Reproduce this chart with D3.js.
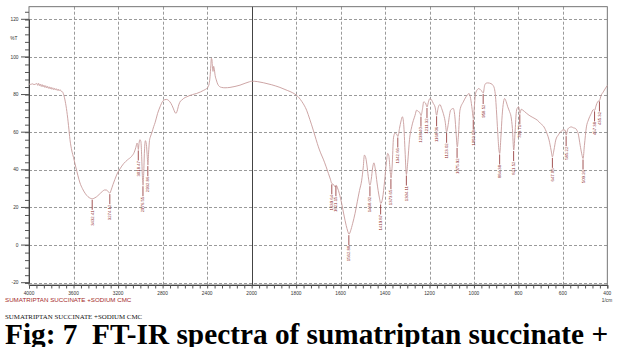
<!DOCTYPE html>
<html>
<head>
<meta charset="utf-8">
<script src="https://cdn.jsdelivr.net/npm/d3@7"></script>
<style>
  html, body { margin: 0; padding: 0; background: #fff; }
  svg { display: block; }
</style>
</head>
<body>
<div id="chart"></div>
<script>
// spectrum (wavenumber 1/cm, %T)
const waveNumbers = [
  4000, 3985, 3970, 3955, 3940, 3930, 3922, 3914, 3906, 3898, 3890, 3882, 3874, 3866, 3858, 3850,
  3842, 3834, 3826, 3818, 3810, 3802, 3794, 3786, 3778, 3770, 3762, 3754, 3746, 3738, 3730, 3722,
  3712, 3700, 3690, 3675, 3660, 3645, 3632, 3615, 3600, 3580, 3560, 3542, 3520, 3497, 3470, 3450,
  3432, 3415, 3395, 3370, 3345, 3320, 3302, 3288, 3274, 3262, 3245, 3228, 3205, 3183, 3150, 3115,
  3078, 3055, 3040, 3030, 3024, 3018, 3012, 3004, 2995, 2988, 2982, 2976, 2970, 2963, 2955, 2946,
  2939, 2932, 2926, 2918, 2910, 2898, 2880, 2868, 2845, 2823, 2800, 2780, 2763, 2745, 2725, 2705,
  2690, 2680, 2670, 2655, 2640, 2629, 2610, 2584, 2560, 2530, 2494, 2460, 2430, 2404, 2392, 2382,
  2374, 2367, 2362, 2357, 2352, 2347, 2342, 2337, 2328, 2318, 2305, 2290, 2270, 2240, 2195, 2150,
  2105, 2060, 2020, 2000, 1975, 1948, 1910, 1873, 1840, 1815, 1798, 1775, 1753, 1738, 1723, 1710,
  1700, 1690, 1678, 1665, 1655, 1646, 1640, 1632, 1625, 1620, 1614, 1606, 1595, 1585, 1575, 1568,
  1562, 1555, 1546, 1535, 1525, 1515, 1505, 1498, 1493, 1487, 1480, 1474, 1468, 1462, 1456, 1450,
  1444, 1436, 1426, 1419, 1411, 1402, 1394, 1388, 1383, 1378, 1373, 1368, 1362, 1355, 1348, 1342,
  1335, 1328, 1322, 1316, 1310, 1304, 1298, 1290, 1280, 1265, 1258, 1250, 1244, 1238, 1232, 1226,
  1218, 1211, 1204, 1198, 1190, 1183, 1175, 1168, 1161, 1153, 1145, 1138, 1130, 1123, 1116, 1110,
  1105, 1093, 1086, 1080, 1075, 1070, 1063, 1048, 1030, 1022, 1015, 1008, 1003, 998, 993, 985,
  978, 970, 963, 958, 952, 946, 938, 923, 915, 908, 903, 899, 893, 888, 884, 879,
  873, 867, 862, 855, 848, 840, 833, 827, 821, 815, 810, 806, 799, 793, 787, 780,
  765, 752, 735, 715, 700, 685, 672, 662, 653, 647, 640, 632, 620, 610, 598, 590,
  585, 578, 570, 562, 552, 543, 537, 531, 522, 515, 509, 503, 494, 485, 472, 463,
  457, 452, 447, 441, 435, 428, 418, 410, 400
];
const transmittance = [
  85.6, 85.4, 85.7, 85.3, 85.6, 85.9, 84.9, 86.0, 84.7, 85.6, 84.3, 85.3, 84.1, 85.0, 83.8, 84.7,
  83.5, 84.4, 83.3, 84.1, 83.0, 83.9, 82.8, 83.6, 82.6, 83.3, 82.4, 83.1, 82.2, 82.9, 82.0, 82.6,
  81.8, 81.5, 80.2, 76.5, 71.0, 63.5, 56.0, 50.0, 46.5, 41.5, 36.8, 33.0, 30.0, 27.6, 25.7, 24.9,
  24.6, 24.9, 25.6, 26.9, 28.3, 29.3, 29.2, 28.4, 27.6, 29.3, 32.3, 35.0, 38.3, 40.5, 43.3, 45.3,
  47.2, 49.3, 52.0, 54.2, 53.5, 50.8, 54.0, 56.0, 55.0, 47.0, 37.0, 31.8, 38.0, 50.0, 55.5, 53.5,
  48.0, 42.5, 49.0, 55.5, 57.5, 59.5, 63.0, 65.0, 70.0, 73.5, 76.4, 77.3, 77.4, 76.8, 75.3, 72.8,
  70.6, 70.0, 71.2, 74.5, 76.5, 77.0, 78.0, 78.8, 79.4, 80.0, 80.6, 81.4, 82.3, 83.2, 84.0, 85.8,
  89.5, 95.5, 99.3, 98.5, 94.0, 92.3, 95.0, 94.0, 90.0, 87.8, 85.5, 84.3, 83.8, 83.6, 83.8, 84.3,
  85.0, 86.0, 86.8, 87.1, 86.9, 86.3, 85.2, 83.8, 82.2, 80.9, 79.6, 76.4, 71.7, 66.6, 61.1, 56.0,
  52.2, 49.0, 45.7, 41.6, 38.1, 35.0, 32.8, 32.2, 31.0, 31.9, 30.4, 27.5, 22.0, 16.0, 10.5, 7.4,
  5.8, 7.6, 11.4, 16.8, 23.0, 29.0, 34.5, 41.5, 47.8, 46.5, 41.0, 35.0, 31.8, 35.0, 41.0, 43.7,
  40.5, 33.0, 25.5, 22.1, 25.0, 34.0, 44.0, 48.7, 47.5, 41.0, 35.6, 42.0, 57.0, 59.5, 59.0, 57.7,
  62.0, 66.0, 68.2, 64.0, 50.0, 37.5, 44.0, 56.0, 62.9, 69.0, 71.7, 71.0, 70.5, 68.8, 72.0, 76.1,
  75.5, 73.4, 76.5, 77.9, 77.0, 75.3, 73.4, 69.0, 73.0, 74.7, 72.5, 70.0, 66.0, 60.2, 64.0, 69.0,
  71.7, 72.6, 68.5, 59.0, 52.2, 58.0, 71.7, 76.1, 79.7, 80.6, 77.9, 72.0, 67.2, 74.0, 80.4, 82.6,
  83.2, 82.4, 81.6, 80.8, 84.8, 86.0, 86.2, 85.8, 85.0, 83.2, 79.0, 72.0, 60.0, 51.0, 48.7, 57.0,
  69.0, 76.0, 77.9, 76.2, 73.5, 71.0, 68.2, 62.0, 50.5, 60.0, 70.0, 72.6, 73.5, 70.0, 72.2, 71.7,
  70.2, 69.0, 67.8, 66.4, 64.6, 62.8, 59.5, 55.8, 50.5, 46.9, 50.5, 55.8, 58.6, 60.2, 61.2, 61.1,
  58.4, 61.5, 62.5, 62.8, 62.3, 62.0, 61.0, 59.3, 53.0, 48.5, 46.0, 53.0, 62.8, 66.5, 70.0, 72.0,
  71.6, 73.5, 75.3, 76.5, 76.9, 79.5, 81.4, 83.0, 84.8
];

// labelled peaks (1/cm)
const peakLabels = [
  3432.41, 3274.12, 3018.47, 2976.55, 2932.86, 1639.64, 1621.15, 1562.88, 1468.02, 1419.87,
  1373.65, 1342.66, 1304.11, 1238.40, 1211.32, 1168.06, 1123.02, 1075.92, 1003.08, 958.52,
  884.38, 821.52, 793.71, 647.06, 585.22, 509.26, 457.38, 435.32
];

const xTicks = [4000, 3600, 3200, 2800, 2400, 2000, 1800, 1600, 1400, 1200, 1000, 800, 600, 400];
const yTicks = [-20, 0, 20, 40, 60, 80, 100, 120];

const sampleName = 'SUMATRIPTAN SUCCINATE +SODIUM CMC';
const captionText = 'Fig: 7  FT-IR spectra of sumatriptan succinate +';

const width = 617;
const height = 347;
const plotLeft = 29, plotRight = 607.3, plotTop = 6.7, plotBottom = 285;

const svg = d3.select('#chart')
  .append('svg')
    .attr('width', width)
    .attr('height', height);

// scale is expanded x2 below 2000 1/cm, like the instrument printout
const x = d3.scaleLinear()
  .domain([4000, 2000, 400])
  .range([plotLeft, 251.7, plotRight]);

const y = d3.scaleLinear()
  .domain([-20, 120])
  .range([282.7, 19.3]);

// grid
const gridH = svg.append('g').attr('class', 'grid');
gridH.selectAll('line')
  .data(yTicks)
  .enter()
    .append('line')
      .attr('x1', plotLeft)
      .attr('x2', plotRight)
      .attr('y1', d => Math.round(y(d)) + 0.5)
      .attr('y2', d => Math.round(y(d)) + 0.5)
      .attr('stroke', '#9a9a9a')
      .attr('stroke-width', 1)
      .attr('stroke-dasharray', '3,2');

const gridV = svg.append('g').attr('class', 'grid');
gridV.selectAll('line')
  .data(xTicks.filter(d => d != 4000 && d != 400))
  .enter()
    .append('line')
      .attr('x1', d => Math.round(x(d)) + 0.5)
      .attr('x2', d => Math.round(x(d)) + 0.5)
      .attr('y1', plotTop)
      .attr('y2', plotBottom)
      .attr('stroke', d => d == 2000 ? '#444' : '#9a9a9a')
      .attr('stroke-width', 1)
      .attr('stroke-dasharray', d => d == 2000 ? null : '3,2');

// frame
svg.append('rect')
  .attr('x', plotLeft)
  .attr('y', plotTop)
  .attr('width', plotRight - plotLeft)
  .attr('height', plotBottom - plotTop)
  .attr('fill', 'none')
  .attr('stroke', '#666')
  .attr('stroke-width', 0.9);

// y axis (ticks every 4 %T)
const yMinor = d3.range(-20, 125, 4);
const yAxis = svg.append('g')
  .attr('transform', `translate(${plotLeft},0)`)
  .call(d3.axisLeft(y).tickValues(yMinor).tickSize(4).tickFormat(''));
yAxis.select('.domain').attr('stroke', '#444');
yAxis.selectAll('.tick line').attr('stroke', '#555');

svg.append('g')
  .selectAll('line')
  .data(yTicks)
  .enter()
    .append('line')
      .attr('x1', plotLeft - 8)
      .attr('x2', plotLeft)
      .attr('y1', d => y(d))
      .attr('y2', d => y(d))
      .attr('stroke', '#555');

svg.append('g')
  .selectAll('text')
  .data(yTicks)
  .enter()
    .append('text')
      .attr('x', 18.5)
      .attr('y', d => y(d))
      .attr('dy', '0.35em')
      .attr('text-anchor', 'end')
      .attr('font-family', 'Liberation Sans, Arial, sans-serif')
      .attr('font-size', 4.8)
      .attr('fill', '#333')
      .text(d => d);

svg.append('text')
  .attr('x', 17.5)
  .attr('y', y(110))
  .attr('dy', '0.35em')
  .attr('text-anchor', 'end')
  .attr('font-family', 'Liberation Sans, Arial, sans-serif')
  .attr('font-size', 4.8)
  .attr('fill', '#333')
  .text('%T');

// x axis, each labelled interval split in 6
let xMinor = [];
for (let i = 0; i < xTicks.length - 1; i++) {
  let step = (xTicks[i] - xTicks[i + 1]) / 6;
  for (let k = 0; k < 6; k++) xMinor.push(xTicks[i] - k * step);
}
xMinor.push(400);

const xAxis = svg.append('g')
  .attr('transform', `translate(0,${plotBottom})`)
  .call(d3.axisBottom(x).tickValues(xMinor).tickSize(3.5).tickFormat(''));
xAxis.select('.domain').attr('stroke', '#444');
xAxis.selectAll('.tick line').attr('stroke', '#555');

svg.append('g')
  .selectAll('text')
  .data(xTicks)
  .enter()
    .append('text')
      .attr('x', d => x(d))
      .attr('y', 295)
      .attr('text-anchor', 'middle')
      .attr('font-family', 'Liberation Sans, Arial, sans-serif')
      .attr('font-size', 4.8)
      .attr('fill', '#333')
      .text(d => d);

svg.append('text')
  .attr('x', 607)
  .attr('y', 302)
  .attr('text-anchor', 'middle')
  .attr('font-family', 'Liberation Sans, Arial, sans-serif')
  .attr('font-size', 4.8)
  .attr('fill', '#333')
  .text('1/cm');

// spectrum
const points = waveNumbers.map((w, i) => ({ w: w, t: transmittance[i] }));

const line = d3.line()
  .x(d => x(d.w))
  .y(d => y(d.t))
  .curve(d3.curveMonotoneX);

svg.append('path')
  .datum(points)
  .attr('d', line)
  .attr('fill', 'none')
  .attr('stroke', '#c79b9b')
  .attr('stroke-width', 0.9);

// peak markers
function tipOf(w) {
  let best = points[0];
  points.forEach(p => { if (Math.abs(p.w - w) < Math.abs(best.w - w)) best = p; });
  return best.t;
}

const peaks = svg.append('g')
  .selectAll('g')
  .data(peakLabels)
  .enter()
    .append('g')
      .attr('transform', d => `translate(${x(d)},${y(tipOf(d)) + 1})`);

peaks.append('line')
  .attr('x1', 0)
  .attr('x2', 0)
  .attr('y1', 0)
  .attr('y2', 10)
  .attr('stroke', '#8c2a2a')
  .attr('stroke-width', 0.8);

peaks.append('text')
  .attr('transform', 'translate(0,10.5) rotate(-90)')
  .attr('dy', '0.35em')
  .attr('text-anchor', 'end')
  .attr('font-family', 'Liberation Sans, Arial, sans-serif')
  .attr('font-size', 4.3)
  .attr('fill', '#8c2a2a')
  .text(d => d.toFixed(2));

// sample name under the plot
svg.append('text')
  .attr('x', 5)
  .attr('y', 302)
  .attr('font-family', 'Liberation Sans, Arial, sans-serif')
  .attr('font-size', 6.2)
  .attr('fill', '#a52a2a')
  .text(sampleName);

svg.append('text')
  .attr('x', 5)
  .attr('y', 319)
  .attr('font-family', 'Liberation Serif, Times New Roman, serif')
  .attr('font-size', 6.9)
  .attr('fill', '#111')
  .text(sampleName);

svg.append('text')
  .attr('x', 5)
  .attr('y', 344)
  .attr('font-family', 'Liberation Serif, Times New Roman, serif')
  .attr('font-weight', 'bold')
  .attr('font-size', 29.3)
  .attr('fill', '#000')
  .style('white-space', 'pre')
  .text(captionText);
</script>
</body>
</html>
